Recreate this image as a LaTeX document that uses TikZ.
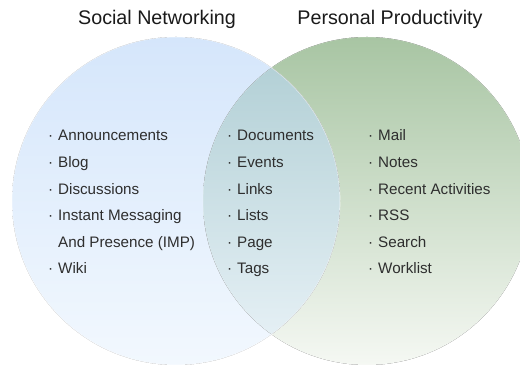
\documentclass[tikz,border=0pt]{standalone}
\usepackage{fontspec}
\setmainfont{Liberation Sans}
\definecolor{blueTop}{HTML}{D5E6FB}
\definecolor{blueBot}{HTML}{F2F8FE}
\definecolor{greenTop}{HTML}{A8C5A3}
\definecolor{greenBot}{HTML}{F5F8F3}
\definecolor{tealTop}{HTML}{AECDD3}
\definecolor{tealBot}{HTML}{EAF3F8}
\definecolor{titleText}{HTML}{1A1A1A}
\definecolor{itemText}{HTML}{2E2E2E}
\begin{document}
\begin{tikzpicture}[x=1pt,y=1pt,
  title/.style={anchor=base,inner sep=0pt,text=titleText,font=\fontsize{19.7}{22}\selectfont},
  item/.style={anchor=base west,inner sep=0pt,text=itemText,font=\fontsize{15.2}{18}\selectfont},
  edge/.style={draw=white,draw opacity=0.7,line width=0.7pt}]
\useasboundingbox (0,0) rectangle (520,366);
\clip (0,0) rectangle (520,366);
% circles
\coordinate (cl) at (176,165);
\coordinate (cr) at (367,165);
\fill[top color=greenTop,bottom color=greenBot] (cr) circle (164);
\fill[top color=blueTop,bottom color=blueBot] (cl) circle (164);
\begin{scope}
  \clip (cr) circle (164);
  \fill[top color=tealTop,bottom color=tealBot] (cl) circle (164);
\end{scope}
\draw[edge] (cl) circle (164);
\draw[edge,draw opacity=0.3] (cr) circle (164);
% titles
\node[title] (t1) at (157,341) {Social Networking};
\node[title] (t2) at (390,341) {Personal Productivity};
% left list
\newcommand{\itm}[1]{\makebox[10pt][l]{·}#1}
\node[item] (a1) at (48,225) {\itm{Announcements}};
\node[item] (a2) at (48,198.4) {\itm{Blog}};
\node[item] (a3) at (48,171.8) {\itm{Discussions}};
\node[item] (a4) at (48,145.2) {\itm{Instant Messaging}};
\node[item] (a5) at (58,118.6) {And Presence (IMP)};
\node[item] (a6) at (48,92) {\itm{Wiki}};
% middle list
\node[item] (b1) at (227,225) {\itm{Documents}};
\node[item] (b2) at (227,198.4) {\itm{Events}};
\node[item] (b3) at (227,171.8) {\itm{Links}};
\node[item] (b4) at (227,145.2) {\itm{Lists}};
\node[item] (b5) at (227,118.6) {\itm{Page}};
\node[item] (b6) at (227,92) {\itm{Tags}};
% right list
\node[item] (c1) at (368,225) {\itm{Mail}};
\node[item] (c2) at (368,198.4) {\itm{Notes}};
\node[item] (c3) at (368,171.8) {\itm{Recent Activities}};
\node[item] (c4) at (368,145.2) {\itm{RSS}};
\node[item] (c5) at (368,118.6) {\itm{Search}};
\node[item] (c6) at (368,92) {\itm{Worklist}};
\end{tikzpicture}
\end{document}
